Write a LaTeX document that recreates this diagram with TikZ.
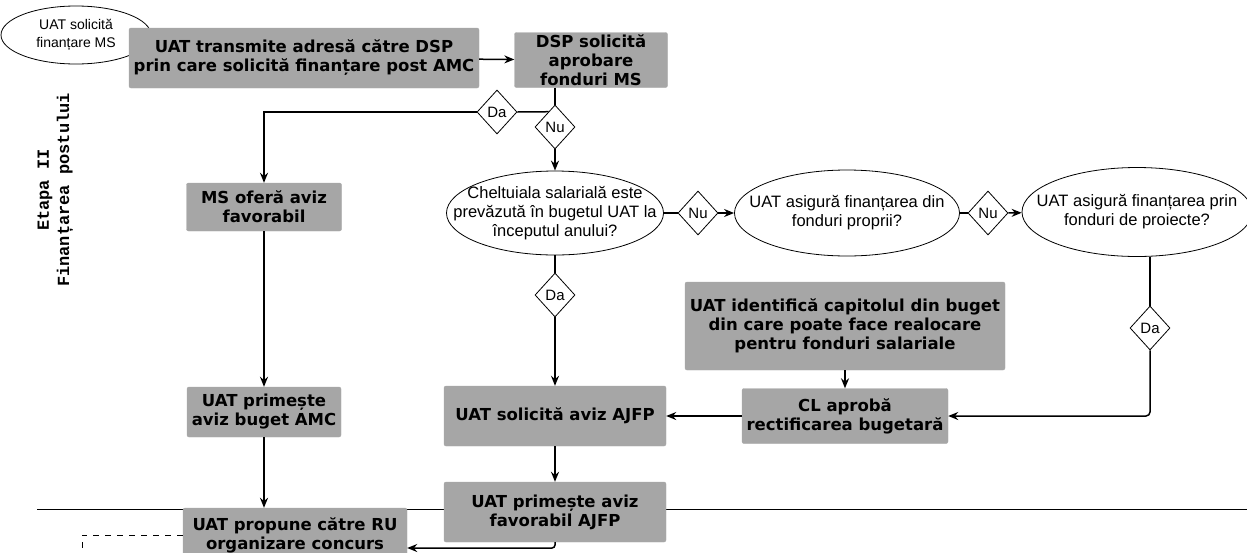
\documentclass[tikz,border=0pt]{standalone}
\usepackage{fontspec}
\setmainfont{Liberation Sans}
\newfontfamily\boxfont{DejaVu Sans}
\newfontfamily\sidefont[BoldFont={Liberation Mono Bold}]{Liberation Mono}
\usepackage{tikz}
\usetikzlibrary{shapes.geometric, arrows, arrows.meta, positioning, calc}
\tikzstyle{question} = [ellipse, draw=black, line width=0.8pt, fill=white, inner ysep=0pt, align=center, font=\fontsize{16.5}{19}\selectfont]
\tikzstyle{process} = [rectangle, rounded corners=2pt, draw=gray!70, fill=black!35, inner sep=0pt, align=center, font=\boxfont\bfseries\fontsize{16.5}{19}\selectfont]
\tikzstyle{decision} = [diamond, draw=black, line width=0.8pt, fill=white, inner sep=0pt, minimum width=40pt, minimum height=44pt, font=\fontsize{15}{15}\selectfont]
\tikzstyle{side} = [rotate=90, font=\sidefont\bfseries\fontsize{17}{17}\selectfont]
\tikzstyle{arrow} = [line width=1.5pt,->,>={Stealth[length=10pt,width=8pt]}]
\tikzstyle{line} = [line width=1.5pt]

\begin{document}
\begin{tikzpicture}[x=1pt, y=-1pt]
		\useasboundingbox (0,0) rectangle (1247,552);
		
		\draw [line width=0.6pt] (37,509) -- (1247,509);
		
		\node (etapa) [side] at (45,190) {Etapa II};
		\node (faza) [side] at (65,190) {Finanțarea postului};
		
		\node (solms) [question, inner xsep=0pt, minimum width=150pt, minimum height=58pt, font=\fontsize{14}{18}\selectfont] at (76,35) {UAT solicită\\finanțare MS};
		\node (adresa) [process, minimum width=350pt, minimum height=60pt] at (304,58) {UAT transmite adresă către DSP\\prin care solicită finanțare post AMC};
		\node (dsp) [process, minimum width=153pt, minimum height=55pt] at (591,60) {DSP solicită\\aprobare\\fonduri MS};
		
		\node (da1) [decision] at (497,112) {Da};
		\node (nu1) [decision] at (555,127) {Nu};
		
		\node (ms) [process, minimum width=155pt, minimum height=48pt] at (264,207) {MS oferă aviz\\favorabil};
		\node (primamc) [process, minimum width=154pt, minimum height=50pt] at (264,412) {UAT primește\\aviz buget AMC};
		
		\node (chelt) [question, inner xsep=-25pt, minimum width=217pt, minimum height=84pt] at (555,213) {Cheltuiala salarială este\\prevăzută în bugetul UAT la\\începutul anului?};
		\node (nu2) [decision] at (698,213) {Nu};
		\node (proprii) [question, inner xsep=-18pt, minimum width=225pt, minimum height=86pt] at (847,213) {UAT asigură finanțarea din\\fonduri proprii?};
		\node (nu3) [decision] at (988,213) {Nu};
		\node (proiecte) [question, inner xsep=-19pt, minimum width=230pt, minimum height=89pt] at (1137,212) {UAT asigură finanțarea prin\\fonduri de proiecte?};
		
		\node (da2) [decision] at (555,295) {Da};
		\node (da3) [decision] at (1150,328) {Da};
		
		\node (identif) [process, minimum width=320pt, minimum height=88pt] at (845,326) {UAT identifică capitolul din buget\\din care poate face realocare\\pentru fonduri salariale};
		\node (cl) [process, minimum width=206pt, minimum height=55pt] at (845,416) {CL aprobă\\rectificarea bugetară};
		\node (solajfp) [process, minimum width=222pt, minimum height=60pt] at (555,416) {UAT solicită aviz AJFP};
		\node (primajfp) [process, minimum width=222pt, minimum height=60pt] at (555,512) {UAT primește aviz\\favorabil AJFP};
		\node (propune) [process, minimum width=224pt, minimum height=54pt] at (295,535) {UAT propune către RU\\organizare concurs};
		\coordinate (dashend) at (82,550);
		
		\draw [arrow] (adresa) -- (dsp);
		\draw [line] (nu1.north |- dsp.south) -- (nu1);
		\draw [line] (da1.east) -- (nu1.113);
		\draw [arrow] (da1.west) -| (ms.north);
		\draw [arrow] (nu1) -- (chelt);
		\draw [arrow] (ms) -- (primamc);
		\draw [arrow] (primamc.south) -- (primamc.south |- propune.north);
		\draw [line] (chelt) -- (nu2);
		\draw [arrow] (nu2) -- (proprii);
		\draw [line] (proprii) -- (nu3);
		\draw [arrow] (nu3) -- (proiecte);
		\draw [line] (chelt) -- (da2);
		\draw [arrow] (da2) -- (solajfp);
		\draw [line] (da3.north |- proiecte.south) -- (da3);
		\draw [arrow, rounded corners=4pt] (da3) |- (cl);
		\draw [arrow] (identif) -- (cl);
		\draw [arrow] (cl) -- (solajfp);
		\draw [arrow] (solajfp) -- (primajfp);
		\draw [arrow, rounded corners=3pt] (primajfp.south) |- ([yshift=-13pt]propune.east);
		\draw [line width=0.8pt, dash pattern=on 6pt off 6pt] (propune.west) -| (dashend);
\end{tikzpicture}
\end{document}
